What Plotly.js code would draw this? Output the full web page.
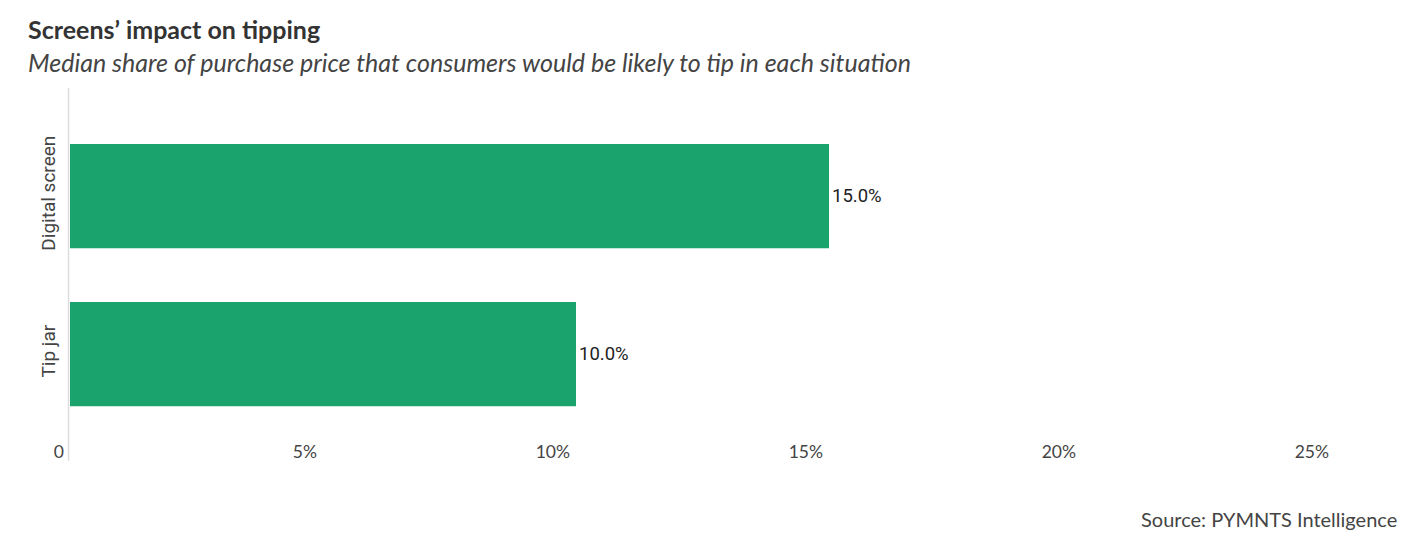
<!DOCTYPE html>
<html>
<head>
<meta charset="utf-8">
<script src="https://cdn.plot.ly/plotly-3.0.1.min.js"></script>
<style>html,body{margin:0;padding:0;background:#fff;}#chart{width:1413px;height:554px;}</style>
</head>
<body>
<div id="chart"></div>
<script>
// Data
const categories = ['Digital screen', 'Tip jar'];
const values = [15.0, 10.0];
const dataLabels = ['15.0%', '10.0%'];
const xTickVals = [0, 5, 10, 15, 20, 25];
const xTickText = ['0', '5%', '10%', '15%', '20%', '25%'];
const titleText = 'Screens’ impact on tipping';
const subtitleText = 'Median share of purchase price that consumers would be likely to tip in each situation';
const sourceText = 'Source: PYMNTS Intelligence';

const W = 1413, H = 554;
const M = {l: 70, r: 78, t: 88, b: 115};
const PW = W - M.l - M.r, PH = H - M.t - M.b;
const px = x => (x - M.l) / PW;
const py = y => (H - M.b - y) / PH;

const trace = {
  type: 'bar',
  orientation: 'h',
  y: categories,
  x: values,
  width: 0.66,
  marker: {color: '#1aa36c'},
  text: dataLabels,
  textposition: 'outside',
  textfont: {family: 'Roboto, sans-serif', size: 18.5, color: '#222'},
  cliponaxis: false,
  hoverinfo: 'none'
};

const layout = {
  width: W, height: H,
  margin: M,
  paper_bgcolor: '#fff', plot_bgcolor: '#fff',
  showlegend: false,
  xaxis: {
    range: [0, 25],
    tickvals: xTickVals,
    ticktext: xTickText,
    ticklabelposition: 'outside left',
    ticklabelshift: -6,
    showgrid: false, zeroline: false, showline: false,
    ticks: '',
    tickfont: {family: 'Lato, sans-serif', size: 17.5, color: '#444'},
    fixedrange: true
  },
  yaxis: {
    type: 'category',
    categoryorder: 'array',
    categoryarray: categories,
    range: [1.538, -0.684],
    tickangle: -90,
    ticklabelstandoff: 10,
    showgrid: false, zeroline: false, showline: false,
    ticks: '',
    tickfont: {family: 'Roboto, sans-serif', size: 19, color: '#444'},
    fixedrange: true
  },
  shapes: [{
    type: 'line', xref: 'paper', yref: 'paper',
    x0: px(68.5), x1: px(68.5), y0: py(461), y1: py(88),
    line: {color: '#dddddd', width: 1.5}
  }],
  annotations: [
    {text: '<b>' + titleText + '</b>', xref: 'paper', yref: 'paper', x: px(26), y: py(29),
     xanchor: 'left', yanchor: 'middle', showarrow: false,
     font: {family: 'Lato, sans-serif', size: 25, color: '#333'}},
    {text: '<i>' + subtitleText + '</i>', xref: 'paper', yref: 'paper', x: px(26), y: py(62),
     xanchor: 'left', yanchor: 'middle', showarrow: false,
     font: {family: 'Lato, sans-serif', size: 25, color: '#444'}},
    {text: sourceText, xref: 'paper', yref: 'paper', x: px(1399), y: py(519),
     xanchor: 'right', yanchor: 'middle', showarrow: false,
     font: {family: 'Lato, sans-serif', size: 20, color: '#444'}}
  ]
};

Plotly.newPlot('chart', [trace], layout, {displayModeBar: false, staticPlot: true});
</script>
</body>
</html>
